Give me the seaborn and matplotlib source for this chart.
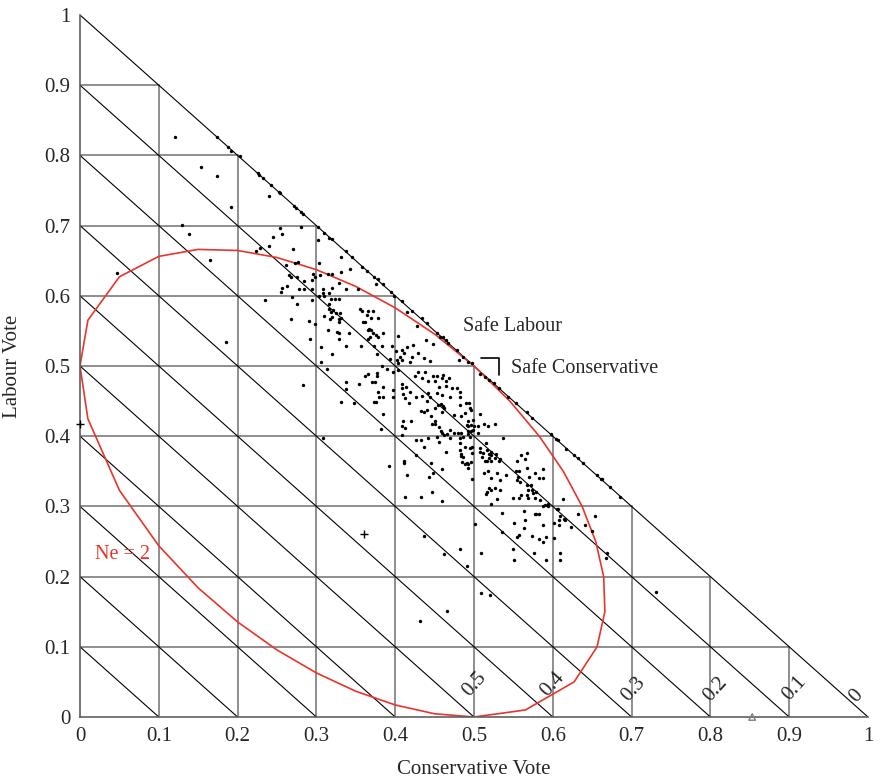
import numpy as np
import matplotlib
matplotlib.use("Agg")
import matplotlib.pyplot as plt
import seaborn as sns

# Constituency vote shares (fractions): Conservative vote vs Labour vote
con_vote = [
    0.121, 0.174, 0.188, 0.192, 0.203, 0.154, 0.174, 0.226, 0.227, 0.232,
    0.242, 0.253, 0.254, 0.240, 0.272, 0.274, 0.280, 0.283, 0.192, 0.129,
    0.138, 0.254, 0.280, 0.302, 0.310, 0.316, 0.245, 0.256, 0.302, 0.240,
    0.270, 0.228, 0.223, 0.165, 0.303, 0.277, 0.273, 0.261, 0.265, 0.268,
    0.275, 0.296, 0.298, 0.305, 0.315,
    0.320, 0.338, 0.345, 0.331, 0.358, 0.364, 0.331, 0.343, 0.320, 0.373,
    0.378, 0.385, 0.376, 0.395, 0.398, 0.320, 0.338, 0.353, 0.324, 0.329,
    0.319,
    0.284, 0.294, 0.329, 0.308, 0.308, 0.316, 0.310, 0.303, 0.256, 0.255,
    0.263, 0.269, 0.278, 0.284, 0.294, 0.294, 0.235, 0.275, 0.316, 0.316,
    0.319, 0.321, 0.325, 0.330, 0.320, 0.329, 0.329, 0.331, 0.317, 0.310,
    0.298, 0.291, 0.268, 0.315, 0.326, 0.329, 0.341, 0.329, 0.292, 0.338,
    0.306, 0.320, 0.306, 0.313, 0.283, 0.355, 0.358, 0.365, 0.372, 0.364,
    0.369, 0.378, 0.359, 0.362, 0.367, 0.365, 0.369, 0.372, 0.376, 0.378,
    0.385, 0.368, 0.365, 0.357, 0.373, 0.383, 0.396, 0.377, 0.393, 0.402,
    0.404, 0.383, 0.390, 0.362, 0.365, 0.377, 0.377, 0.397, 0.404, 0.338,
    0.371, 0.374, 0.385, 0.338, 0.354, 0.378, 0.385, 0.379, 0.397, 0.397,
    0.404, 0.401,
    0.331, 0.348, 0.373, 0.376, 0.385, 0.382, 0.308, 0.392,
    0.409, 0.421, 0.415, 0.428, 0.434, 0.440, 0.453, 0.457, 0.461, 0.464,
    0.467, 0.478, 0.486, 0.492, 0.497, 0.508, 0.514, 0.519, 0.525, 0.532,
    0.543, 0.481, 0.439, 0.448, 0.415, 0.423, 0.409, 0.411, 0.429, 0.421,
    0.419, 0.437, 0.444, 0.406, 0.409, 0.429, 0.438, 0.448, 0.453, 0.461,
    0.468, 0.425, 0.434, 0.441, 0.450, 0.459, 0.465, 0.464, 0.455, 0.453,
    0.459, 0.408, 0.408, 0.414, 0.419, 0.410, 0.412, 0.472, 0.478, 0.482,
    0.470, 0.482, 0.441, 0.444, 0.434, 0.426,
    0.418, 0.440, 0.454, 0.458, 0.461, 0.462, 0.459, 0.450, 0.482, 0.490,
    0.494, 0.495, 0.496, 0.507, 0.488, 0.475, 0.484, 0.433, 0.440, 0.437,
    0.445, 0.420, 0.410, 0.408, 0.412, 0.450, 0.447, 0.450, 0.456, 0.458,
    0.469, 0.459, 0.462, 0.466, 0.475, 0.480, 0.484, 0.486, 0.469, 0.491,
    0.493, 0.496, 0.492, 0.496, 0.493, 0.495, 0.499, 0.505, 0.500, 0.505,
    0.513, 0.518, 0.527, 0.492, 0.499, 0.408, 0.426, 0.433, 0.442, 0.453,
    0.456, 0.482, 0.482, 0.488, 0.495, 0.497, 0.498, 0.508, 0.508, 0.511,
    0.510, 0.515, 0.516, 0.519, 0.521, 0.522, 0.519, 0.514, 0.517, 0.522,
    0.527, 0.528, 0.533, 0.532, 0.537, 0.437, 0.464, 0.482, 0.484, 0.483,
    0.486, 0.411, 0.411, 0.426, 0.445, 0.485, 0.488, 0.493, 0.491, 0.493,
    0.496, 0.459, 0.448, 0.443, 0.415, 0.497, 0.513, 0.518, 0.529, 0.541,
    0.522, 0.533, 0.553, 0.557, 0.556, 0.554, 0.555, 0.560, 0.567, 0.565,
    0.567, 0.577, 0.588, 0.570, 0.582, 0.588, 0.559, 0.567, 0.572, 0.569,
    0.574, 0.575, 0.579, 0.577, 0.569, 0.567, 0.560, 0.549, 0.557, 0.584,
    0.587, 0.590, 0.594, 0.594, 0.519, 0.521, 0.517, 0.527, 0.533, 0.529,
    0.522, 0.515, 0.536, 0.412, 0.433, 0.459, 0.447, 0.563, 0.577, 0.579,
    0.583, 0.565, 0.551, 0.588, 0.563, 0.557, 0.555, 0.574, 0.582, 0.592,
    0.587, 0.535, 0.501, 0.437, 0.482, 0.549, 0.553, 0.567, 0.574,
    0.598, 0.604, 0.606, 0.617, 0.627, 0.632, 0.638, 0.656, 0.661, 0.663,
    0.673, 0.685, 0.613, 0.605, 0.606, 0.632, 0.654, 0.609, 0.608, 0.614,
    0.615, 0.601, 0.608, 0.623, 0.641, 0.650, 0.601,
    0.462, 0.509, 0.491, 0.551, 0.576, 0.592, 0.509, 0.520, 0.466, 0.431,
    0.609, 0.609, 0.669, 0.667, 0.731,
    0.047, 0.185,
]
lab_vote = [
    0.826, 0.826, 0.812, 0.806, 0.799, 0.783, 0.771, 0.775, 0.772, 0.768,
    0.758, 0.748, 0.746, 0.742, 0.728, 0.725, 0.719, 0.716, 0.726, 0.701,
    0.688, 0.697, 0.698, 0.698, 0.689, 0.682, 0.684, 0.688, 0.679, 0.671,
    0.667, 0.668, 0.664, 0.651, 0.647, 0.648, 0.647, 0.644, 0.630, 0.627,
    0.627, 0.631, 0.627, 0.630, 0.631,
    0.681, 0.664, 0.655, 0.655, 0.641, 0.635, 0.634, 0.638, 0.631, 0.627,
    0.624, 0.617, 0.617, 0.605, 0.600, 0.611, 0.610, 0.610, 0.595, 0.595,
    0.595,
    0.621, 0.623, 0.618, 0.610, 0.604, 0.604, 0.600, 0.600, 0.611, 0.605,
    0.614, 0.598, 0.610, 0.610, 0.610, 0.594, 0.594, 0.588, 0.588, 0.581,
    0.577, 0.580, 0.575, 0.575, 0.570, 0.567, 0.563, 0.568, 0.567, 0.571,
    0.560, 0.564, 0.567, 0.551, 0.548, 0.547, 0.547, 0.538, 0.538, 0.528,
    0.527, 0.517, 0.506, 0.496, 0.473, 0.581, 0.578, 0.578, 0.578, 0.573,
    0.568, 0.568, 0.563, 0.563, 0.553, 0.551, 0.551, 0.547, 0.544, 0.541,
    0.547, 0.541, 0.538, 0.528, 0.528, 0.528, 0.528, 0.517, 0.510, 0.509,
    0.504, 0.500, 0.496, 0.486, 0.489, 0.490, 0.486, 0.491, 0.494, 0.477,
    0.477, 0.477, 0.470, 0.467, 0.474, 0.463, 0.456, 0.456, 0.466, 0.456,
    0.543, 0.521,
    0.449, 0.447, 0.449, 0.449, 0.432, 0.410, 0.397, 0.358,
    0.593, 0.578, 0.577, 0.557, 0.568, 0.561, 0.547, 0.541, 0.541, 0.537,
    0.533, 0.523, 0.513, 0.506, 0.504, 0.489, 0.484, 0.480, 0.476, 0.469,
    0.456, 0.509, 0.537, 0.531, 0.527, 0.530, 0.523, 0.519, 0.519, 0.513,
    0.506, 0.511, 0.507, 0.513, 0.509, 0.491, 0.491, 0.486, 0.486, 0.487,
    0.483, 0.486, 0.483, 0.478, 0.478, 0.483, 0.478, 0.471, 0.470, 0.461,
    0.459, 0.475, 0.469, 0.470, 0.463, 0.460, 0.454, 0.469, 0.468, 0.463,
    0.456, 0.456, 0.462, 0.456, 0.457, 0.456,
    0.447, 0.450, 0.445, 0.446, 0.443, 0.440, 0.434, 0.440, 0.445, 0.447,
    0.447, 0.440, 0.437, 0.432, 0.433, 0.430, 0.429, 0.436, 0.437, 0.434,
    0.429, 0.422, 0.421, 0.414, 0.411, 0.422, 0.418, 0.418, 0.413, 0.407,
    0.409, 0.404, 0.402, 0.403, 0.404, 0.404, 0.404, 0.399, 0.398, 0.416,
    0.414, 0.416, 0.407, 0.407, 0.403, 0.399, 0.409, 0.404, 0.414, 0.415,
    0.417, 0.414, 0.417, 0.422, 0.423, 0.402, 0.395, 0.394, 0.397, 0.399,
    0.392, 0.397, 0.390, 0.385, 0.383, 0.384, 0.376, 0.383, 0.378, 0.376,
    0.371, 0.391, 0.380, 0.374, 0.378, 0.373, 0.369, 0.365, 0.365, 0.365,
    0.369, 0.375, 0.367, 0.364, 0.398, 0.384, 0.377, 0.380, 0.374, 0.372,
    0.371, 0.365, 0.362, 0.373, 0.362, 0.363, 0.361, 0.360, 0.362, 0.355,
    0.363, 0.353, 0.347, 0.342, 0.345, 0.339, 0.348, 0.350, 0.347, 0.345,
    0.341, 0.338, 0.351, 0.351, 0.342, 0.338, 0.365, 0.373, 0.376, 0.367,
    0.354, 0.348, 0.353, 0.342, 0.340, 0.341, 0.335, 0.331, 0.331, 0.324,
    0.323, 0.319, 0.320, 0.312, 0.312, 0.316, 0.316, 0.312, 0.312, 0.309,
    0.301, 0.302, 0.300, 0.304, 0.326, 0.324, 0.321, 0.326, 0.324, 0.311,
    0.303, 0.317, 0.291, 0.313, 0.314, 0.308, 0.321, 0.293, 0.289, 0.289,
    0.289, 0.280, 0.276, 0.274, 0.269, 0.259, 0.257, 0.258, 0.253, 0.257,
    0.250, 0.263, 0.275, 0.258, 0.239, 0.240, 0.447, 0.434, 0.426,
    0.403, 0.396, 0.395, 0.382, 0.373, 0.369, 0.362, 0.345, 0.339, 0.339,
    0.327, 0.314, 0.310, 0.297, 0.296, 0.289, 0.286, 0.286, 0.280, 0.282,
    0.280, 0.276, 0.273, 0.271, 0.273, 0.265, 0.255,
    0.232, 0.234, 0.215, 0.224, 0.234, 0.224, 0.176, 0.174, 0.151, 0.137,
    0.234, 0.224, 0.234, 0.227, 0.178,
    0.633, 0.534,
]

# Highlighted seats drawn with special symbols
cross_con = [0.0, 0.360]
cross_lab = [0.418, 0.261]
tri_con = [0.853]
tri_lab = [0.0]

# Grid values and the Liberal-share labels of the diagonal lines
grid_vals = [0.1, 0.2, 0.3, 0.4, 0.5, 0.6, 0.7, 0.8, 0.9]
diag_vals = [0.1, 0.2, 0.3, 0.4, 0.5, 0.6, 0.7, 0.8, 0.9, 1.0]
lib_labels = ["0.5", "0.4", "0.3", "0.2", "0.1", "0"]
tick_vals = [0, 0.1, 0.2, 0.3, 0.4, 0.5, 0.6, 0.7, 0.8, 0.9, 1]
tick_text = ["0", "0.1", "0.2", "0.3", "0.4", "0.5", "0.6", "0.7", "0.8", "0.9", "1"]

# Effective number of parties contour
ne_level = 2.0
ne_samples = [0, 0.01, 0.05, 0.10, 0.15, 0.20, 0.25, 0.30, 0.35, 0.40, 0.45, 0.50]


def other_share(p, ne):
    """Solve q for p^2 + q^2 + (1-p-q)^2 = 1/ne; return (low, high)."""
    a, b, c = 2.0, -2.0 * (1 - p), (1 - p) ** 2 + p ** 2 - 1.0 / ne
    d = np.sqrt(max(b * b - 4 * a * c, 0.0))
    return (-b - d) / (2 * a), (-b + d) / (2 * a)


ne_x, ne_y = [], []
for p in ne_samples:                      # upper-left arc
    ne_x.append(p); ne_y.append(other_share(p, ne_level)[1])
for q in ne_samples[::-1]:                # right arc
    ne_x.append(other_share(q, ne_level)[1]); ne_y.append(q)
for p in ne_samples[::-1]:                # lower arc
    ne_x.append(p); ne_y.append(other_share(p, ne_level)[0])

sns.set_style("white")
plt.rcParams["font.family"] = ["Liberation Serif", "DejaVu Serif"]

fig = plt.figure(figsize=(8.8, 7.81), dpi=100)
ax = fig.add_axes([80 / 880, 64 / 781, 788 / 880, 702 / 781])
ax.set_xlim(0, 1)
ax.set_ylim(0, 1)

grid_col = "#707070"
for v in grid_vals:
    ax.plot([v, v], [0, 1 - v], color=grid_col, lw=1.1, zorder=1)
    ax.plot([0, 1 - v], [v, v], color=grid_col, lw=1.1, zorder=1)
for c in diag_vals:
    ax.plot([0, c], [c, 0], color="black", lw=0.8, zorder=1)

red = "#e8352b"
sns.lineplot(x=ne_x, y=ne_y, sort=False, estimator=None, color=red, lw=1.2, ax=ax, zorder=2)

sns.scatterplot(x=con_vote, y=lab_vote, s=6, color="black", linewidth=0, ax=ax, zorder=3)
ax.scatter(cross_con, cross_lab, marker="+", s=40, color="black", linewidths=1.0, zorder=3, clip_on=False)
ax.scatter(tri_con, tri_lab, marker="^", s=22, facecolors="none", edgecolors="#808080", linewidths=1.0,
           zorder=3, clip_on=False)

# Liberal share labels along the bottom of the diagonals
lib_x = [0.501, 0.600, 0.703, 0.806, 0.907, 0.985]
lib_y = [0.046, 0.046, 0.040, 0.040, 0.041, 0.030]
for t, lx, ly in zip(lib_labels, lib_x, lib_y):
    ax.text(lx, ly, t, rotation=48, ha="center", va="center", fontsize=15, zorder=4)

ax.text(0.486, 0.556, "Safe Labour", fontsize=14.5, ha="left", va="center")
ax.text(0.547, 0.496, "Safe Conservative", fontsize=14.5, ha="left", va="center")
ax.plot([0.509, 0.532, 0.532], [0.512, 0.512, 0.487], color="black", lw=1.2, zorder=4)
ax.text(0.019, 0.231, "Ne = 2", color=red, fontsize=14.5, ha="left", va="center")

ax.set_xticks(tick_vals)
ax.set_xticklabels(tick_text)
ax.set_yticks(tick_vals)
ax.set_yticklabels(tick_text)
ax.tick_params(length=0, labelsize=15, pad=7)
ax.set_xlabel("Conservative Vote", fontsize=15, va="center")
ax.set_ylabel("Labour Vote", fontsize=15, va="center")
ax.xaxis.set_label_coords(0.5, -(770 - 717) / 702)
ax.yaxis.set_label_coords((13 - 80) / 788, 0.5)

for side in ["top", "right"]:
    ax.spines[side].set_visible(False)
for side in ["left", "bottom"]:
    ax.spines[side].set_color("#606060")
    ax.spines[side].set_linewidth(1.2)

fig.savefig("out.png", dpi=100)
